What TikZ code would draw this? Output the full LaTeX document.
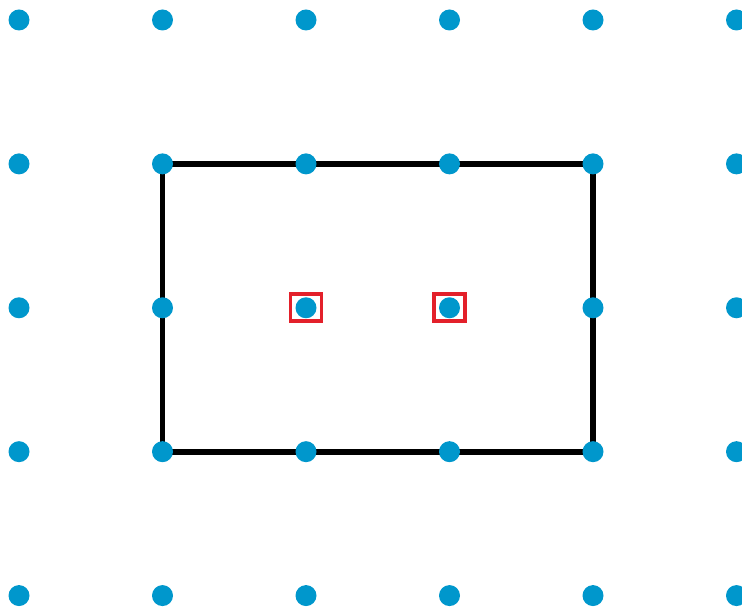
\documentclass[tikz,border=0pt]{standalone}
\usepackage{xcolor}
\usepackage{tikz}
\usetikzlibrary{backgrounds}
\definecolor{GBlue}{HTML}{0097CC}
\definecolor{GRed}{HTML}{E3202A}

\begin{document}
\begin{tikzpicture}[x=1pt,y=1pt,
  dot/.style={circle,fill=GBlue,inner sep=0pt,minimum size=21pt},
  sel/.style={draw=GRed,line width=3.8pt,inner sep=0pt,
    minimum width=31pt,minimum height=27pt},
  frame/.style={line width=5.8pt,color=black,line join=miter}
]
  \useasboundingbox (0,0) rectangle (742,607);
  \clip (0,0) rectangle (742,607);
  % lattice points
  \foreach \i in {0,...,5}
    \foreach \j in {0,...,4}
      {\node[dot] (d\i\j) at ({19+143.5*\i},{587-143.9*\j}) {};}
  % marked interior points
  \node[sel] (s22) at (d22) {};
  \node[sel] (s32) at (d32) {};
  % rectangle through lattice points
  \begin{scope}[on background layer]
    \draw[frame] (d11.center) -- (d41.center) -- (d43.center)
      -- (d13.center) -- cycle;
  \end{scope}
\end{tikzpicture}
\end{document}
